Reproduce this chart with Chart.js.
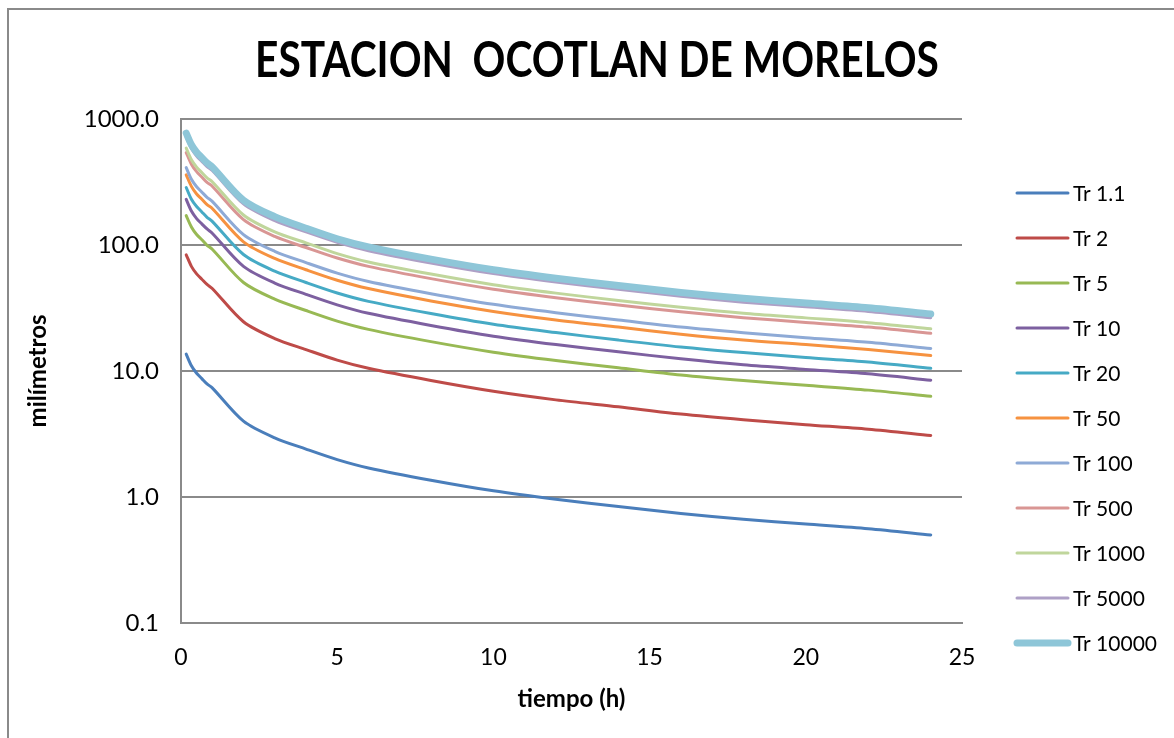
<!DOCTYPE html>
<html>
<head>
<meta charset="utf-8">
<script src="https://cdn.jsdelivr.net/npm/chart.js@4.4.1/dist/chart.umd.min.js"></script>
<style>
  html, body { margin: 0; padding: 0; background: #fff; }
  #wrap { position: relative; width: 1174px; height: 738px; overflow: hidden; }
  #frame { position: absolute; left: 7px; top: 8px; width: 1180px; height: 760px;
           border-left: 2px solid #8a8a8a; border-top: 2px solid #8a8a8a; box-sizing: border-box; }
  canvas { position: absolute; left: 0; top: 0; }
</style>
</head>
<body>
<div id="wrap">
  <div id="frame"></div>
  <canvas id="chart" width="1174" height="738"></canvas>
</div>
<script>
// duraciones (h)
const durations = [0.167, 0.333, 0.5, 0.667, 0.833, 1, 2, 3, 4, 5, 6, 8, 10, 12, 14, 16, 18, 20, 22, 24];

// valores (mm)
const tr1_1   = [13.6, 11.0, 9.6, 8.7, 7.9, 7.35, 4.0, 2.95, 2.4, 1.98, 1.70, 1.36, 1.12, 0.96, 0.84, 0.74, 0.665, 0.61, 0.56, 0.50];
const tr2     = [83.6, 67.7, 59.0, 53.5, 48.6, 45.2, 24.6, 18.1, 14.8, 12.2, 10.5, 8.4, 6.9, 5.9, 5.2, 4.55, 4.1, 3.75, 3.45, 3.08];
const tr5     = [171, 139, 121, 110, 99.5, 92.6, 50.4, 37.2, 30.2, 24.9, 21.4, 17.1, 14.1, 12.1, 10.6, 9.3, 8.4, 7.7, 7.05, 6.3];
const tr10    = [230, 186, 162, 147, 134, 124, 67.6, 49.9, 40.6, 33.5, 28.7, 23.0, 18.9, 16.2, 14.2, 12.5, 11.2, 10.3, 9.5, 8.45];
const tr20    = [286, 231, 202, 183, 166, 154, 84, 62, 50.4, 41.6, 35.7, 28.6, 23.5, 20.2, 17.6, 15.5, 14.0, 12.8, 11.8, 10.5];
const tr50    = [360, 292, 254, 231, 209, 195, 106, 78.2, 63.6, 52.5, 45.1, 36.0, 29.7, 25.4, 22.3, 19.6, 17.6, 16.2, 14.8, 13.25];
const tr100   = [411, 332, 290, 263, 239, 222, 121, 89.1, 72.5, 59.8, 51.3, 41.1, 33.8, 29.0, 25.4, 22.3, 20.1, 18.4, 16.9, 15.1];
const tr500   = [541, 438, 382, 346, 314, 293, 159, 117, 95.5, 78.8, 67.7, 54.1, 44.6, 38.2, 33.4, 29.5, 26.5, 24.3, 22.3, 19.9];
const tr1000  = [588, 475, 415, 376, 341, 318, 173, 127, 104, 85.5, 73.4, 58.8, 48.4, 41.5, 36.3, 32.0, 28.7, 26.4, 24.2, 21.6];
const tr5000  = [721, 583, 509, 461, 419, 390, 212, 156, 127, 105, 90.1, 72.1, 59.4, 50.9, 44.5, 39.2, 35.2, 32.3, 29.7, 26.5];
const tr10000 = [772, 625, 545, 494, 449, 417, 227, 168, 136, 112, 96.6, 77.2, 63.6, 54.5, 47.7, 42.0, 37.8, 34.6, 31.8, 28.4];

const seriesNames = ['Tr 1.1', 'Tr 2', 'Tr 5', 'Tr 10', 'Tr 20', 'Tr 50', 'Tr 100', 'Tr 500', 'Tr 1000', 'Tr 5000', 'Tr 10000'];
const yTicks = [0.1, 1, 10, 100, 1000];

const seriesValues = [tr1_1, tr2, tr5, tr10, tr20, tr50, tr100, tr500, tr1000, tr5000, tr10000];
const colors = ['#4a7ebb', '#be4b48', '#98b954', '#7d60a0', '#46aac5', '#f69240',
                '#8eaad6', '#d99694', '#c0d69c', '#aea0c6', '#8ec6d8'];

const font = "'Lato', 'Open Sans', sans-serif";

const datasets = seriesValues.map((vals, i) => ({
  label: seriesNames[i],
  data: vals.map((v, j) => ({ x: durations[j], y: v })),
  borderColor: colors[i],
  backgroundColor: colors[i],
  borderWidth: i === 10 ? 7 : 3,
  borderCapStyle: 'round',
  pointRadius: 0,
  tension: 0.3,
  fill: false,
  order: 10 - i   // la ultima serie queda encima
}));

// titulo un poco condensado, como en la hoja original
const titlePlugin = {
  id: 'tituloEstacion',
  afterDraw(chart) {
    const ctx = chart.ctx;
    ctx.save();
    ctx.font = "bold 49px " + font;
    ctx.fillStyle = '#000';
    ctx.textAlign = 'center';
    ctx.textBaseline = 'alphabetic';
    ctx.translate(597, 77);
    ctx.scale(0.83, 1);
    ctx.fillText('ESTACION  OCOTLAN DE MORELOS', 0, 0);
    ctx.restore();
  }
};

// leyenda a la derecha
const legendPlugin = {
  id: 'leyendaTr',
  afterDraw(chart) {
    const ctx = chart.ctx;
    ctx.save();
    ctx.font = "21px " + font;
    ctx.textBaseline = 'middle';
    ctx.lineCap = 'round';
    chart.data.datasets.forEach((d, i) => {
      const y = 193 + i * 45;
      ctx.strokeStyle = d.borderColor;
      ctx.lineWidth = d.borderWidth;
      ctx.beginPath();
      ctx.moveTo(1017, y);
      ctx.lineTo(1068, y);
      ctx.stroke();
      ctx.fillStyle = '#000';
      ctx.fillText(d.label, 1073, y + 1);
    });
    ctx.restore();
  }
};

new Chart(document.getElementById('chart'), {
  type: 'line',
  data: { datasets },
  plugins: [titlePlugin, legendPlugin],
  options: {
    responsive: false,
    animation: false,
    devicePixelRatio: 1,
    layout: { padding: { left: 0, right: 212, top: 119, bottom: 0 } },
    plugins: {
      title: { display: false },
      legend: { display: false },
      tooltip: { enabled: false }
    },
    scales: {
      x: {
        type: 'linear',
        min: 0,
        max: 25,
        afterFit: (scale) => { scale.height = 115; },
        ticks: { stepSize: 5, color: '#000', font: { family: font, size: 23 }, padding: 21 },
        grid: { display: false, drawTicks: false },
        border: { color: '#8a8a8a', width: 2 },
        title: { display: true, text: 'tiempo (h)', color: '#000',
                 font: { family: font, size: 24, weight: 'bold' }, padding: { bottom: 24 } }
      },
      y: {
        type: 'logarithmic',
        min: 0.1,
        max: 1000,
        afterFit: (scale) => { scale.width = 181; },
        afterBuildTicks: (scale) => { scale.ticks = yTicks.map(v => ({ value: v })); },
        ticks: {
          color: '#000',
          font: { family: font, size: 24 },
          padding: 22,
          callback: (v) => Number(v).toFixed(1)
        },
        grid: { color: '#8a8a8a', lineWidth: 2, drawTicks: false },
        border: { color: '#8a8a8a', width: 2 },
        title: { display: true, text: 'milímetros', color: '#000',
                 font: { family: font, size: 24, weight: 'bold' }, padding: { top: 24 } }
      }
    }
  }
});
</script>
</body>
</html>
